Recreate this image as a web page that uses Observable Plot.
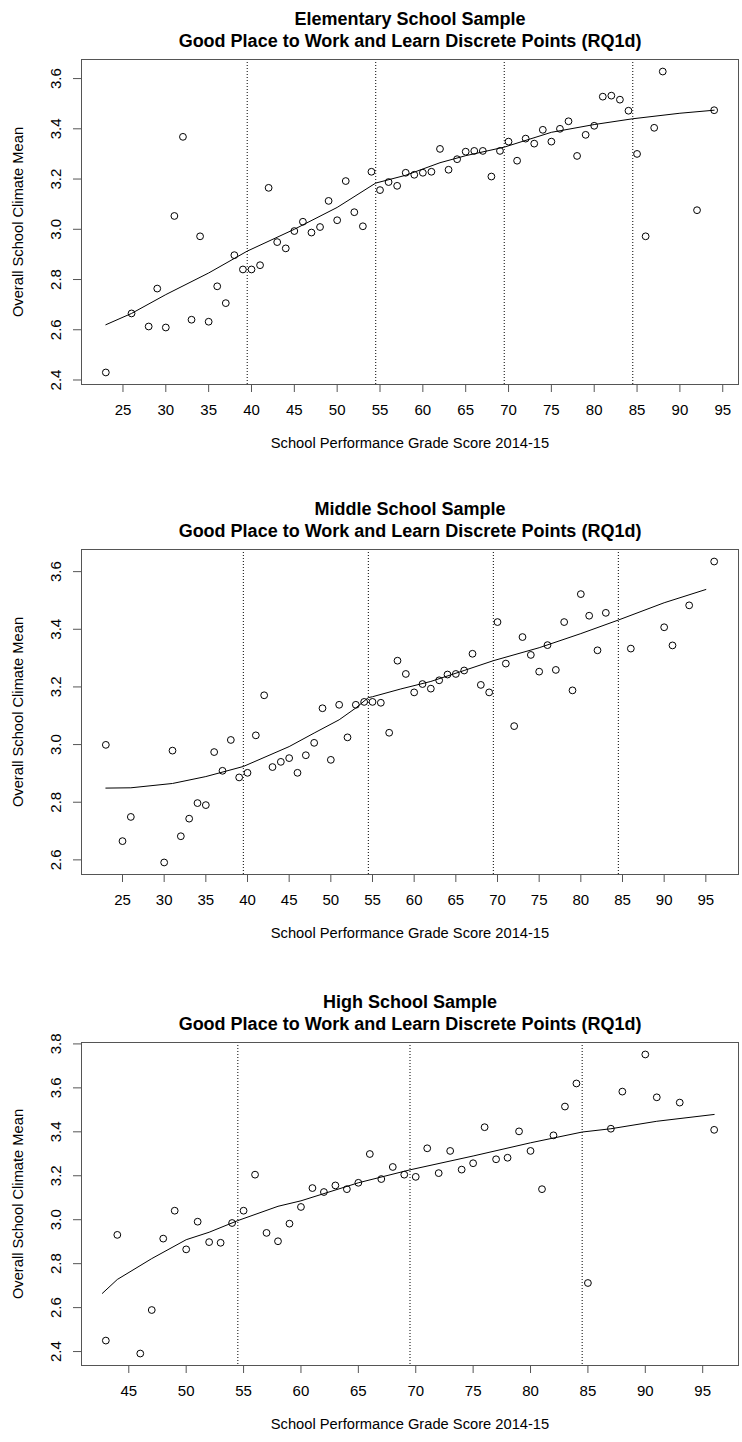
<!DOCTYPE html>
<html><head><meta charset="utf-8">
<script src="https://cdn.jsdelivr.net/npm/d3@7"></script>
<script src="https://cdn.jsdelivr.net/npm/@observablehq/plot@0.6"></script>
<style>body{margin:0;background:#fff;} #chart svg{display:block;}</style>
</head><body><div id="chart"></div>
<script>
// ---- Elementary school sample ----
const elemX = [23,26,28,29,30,31,32,33,34,35,36,37,38,39,40,41,42,43,44,45,46,47,48,49,50,51,52,53,54,55,56,57,58,59,60,61,62,63,64,65,66,67,68,69,70,71,72,73,74,75,76,77,78,79,80,81,82,83,84,85,86,87,88,92,94];
const elemY = [2.43,2.665,2.613,2.764,2.609,3.053,3.368,2.64,2.972,2.632,2.773,2.706,2.897,2.84,2.84,2.857,3.165,2.949,2.924,2.993,3.03,2.987,3.009,3.113,3.036,3.192,3.068,3.012,3.229,3.156,3.188,3.173,3.225,3.217,3.225,3.229,3.32,3.237,3.279,3.309,3.312,3.312,3.21,3.312,3.349,3.273,3.361,3.341,3.396,3.349,3.40,3.43,3.292,3.376,3.412,3.528,3.532,3.516,3.472,3.30,2.972,3.404,3.628,3.076,3.474];
const elemFitX = [23,26,30,35,39.5,45,50,54.5,58,62,65,69.5,75,80,84.5,90,94];
const elemFitY = [2.62,2.665,2.74,2.826,2.913,3.0,3.087,3.184,3.215,3.265,3.293,3.327,3.386,3.417,3.44,3.462,3.474];
const elemCuts = [39.5,54.5,69.5,84.5];

// ---- Middle school sample ----
const midX = [23,25,26,30,31,32,33,34,35,36,37,38,39,40,41,42,43,44,45,46,47,48,49,50,51,52,53,54,55,56,57,58,59,60,61,62,63,64,65,66,67,68,69,70,71,72,73,74,75,76,77,78,79,80,81,82,83,86,90,91,93,96];
const midY = [2.999,2.665,2.749,2.591,2.979,2.682,2.743,2.797,2.79,2.974,2.909,3.016,2.886,2.902,3.032,3.171,2.922,2.94,2.953,2.902,2.963,3.006,3.126,2.947,3.138,3.025,3.138,3.148,3.148,3.145,3.041,3.291,3.245,3.181,3.21,3.194,3.223,3.243,3.245,3.257,3.315,3.207,3.181,3.425,3.281,3.064,3.373,3.311,3.253,3.345,3.259,3.425,3.188,3.522,3.447,3.327,3.457,3.333,3.407,3.344,3.483,3.635];
const midFitX = [23,26,31,35,39.5,45,48,51,53,54.5,55,58.4,62,66,69.5,75,80,84.5,90,95];
const midFitY = [2.849,2.85,2.865,2.889,2.924,2.993,3.04,3.086,3.127,3.163,3.166,3.193,3.219,3.257,3.291,3.336,3.385,3.432,3.492,3.538];
const midCuts = [39.5,54.5,69.5,84.5];

// ---- High school sample ----
const highX = [43,44,46,47,48,49,50,51,52,53,54,55,56,57,58,59,60,61,62,63,64,65,66,67,68,69,70,71,72,73,74,75,76,77,78,79,80,81,82,83,84,85,87,88,90,91,93,96];
const highY = [2.45,2.931,2.391,2.589,2.914,3.041,2.865,2.991,2.898,2.895,2.985,3.041,3.205,2.94,2.902,2.982,3.058,3.144,3.126,3.156,3.139,3.168,3.299,3.185,3.24,3.205,3.195,3.325,3.212,3.313,3.228,3.257,3.421,3.275,3.282,3.402,3.313,3.139,3.384,3.515,3.62,2.712,3.414,3.583,3.752,3.557,3.533,3.409];
const highFitX = [42.7,44,47,50,52,54.5,58,60,65,69.5,75,80,84.5,87,91,96];
const highFitY = [2.665,2.728,2.823,2.909,2.943,2.996,3.061,3.086,3.168,3.227,3.29,3.35,3.399,3.414,3.448,3.479];
const highCuts = [54.5,69.5,84.5];

// ---- ticks & labels ----
const xTicksA = [25,30,35,40,45,50,55,60,65,70,75,80,85,90,95];
const xTicksB = [45,50,55,60,65,70,75,80,85,90,95];
const yTicksElem = [2.4,2.6,2.8,3.0,3.2,3.4,3.6];
const yTicksMid = [2.6,2.8,3.0,3.2,3.4,3.6];
const yTicksHigh = [2.4,2.6,2.8,3.0,3.2,3.4,3.6,3.8];
const titles = ["Elementary School Sample","Middle School Sample","High School Sample"];
const subtitle = "Good Place to Work and Learn Discrete Points (RQ1d)";
const xLabel = "School Performance Grade Score 2014-15";
const yLabel = "Overall School Climate Mean";

function pad(arr){ const lo=d3.min(arr), hi=d3.max(arr), e=(hi-lo)*0.04; return [lo-e, hi+e]; }

function panel({title, xs, ys, fx, fy, cuts, xTicks, yTicks, height, mt, mb}) {
  const pts = xs.map((x,i)=>({x, y: ys[i]}));
  const fit = fx.map((x,i)=>({x, y: fy[i]}));
  return Plot.plot({
    width: 742, height, marginLeft: 81, marginRight: 4, marginTop: mt, marginBottom: mb,
    style: {fontFamily: "'Liberation Sans', Arial, sans-serif", background: "#fff", overflow: "visible"},
    x: {domain: pad(xs)}, y: {domain: pad(ys)},
    marks: [
      Plot.ruleX(cuts, {stroke: "#000", strokeDasharray: "1,2", strokeWidth: 1}),
      Plot.line(fit, {x: "x", y: "y", stroke: "#000", strokeWidth: 1}),
      Plot.dot(pts, {x: "x", y: "y", r: 3.4, stroke: "#000", strokeWidth: 1, fill: "none"}),
      Plot.frame({stroke: "#555"}),
      Plot.axisX({ticks: xTicks, tickSize: 8, tickPadding: 12, fontSize: 15, stroke: "#555", fill: "#000", label: null, tickFormat: d => String(d)}),
      Plot.axisY({ticks: yTicks, tickSize: 8, tickPadding: 13, tickRotate: -90, fontSize: 15, stroke: "#555", fill: "#000", label: null, tickFormat: d3.format(".1f")}),
      Plot.text([title], {frameAnchor: "top", dy: -47, fontSize: 18, fontWeight: "bold", text: d => d, fill: "#000"}),
      Plot.text([subtitle], {frameAnchor: "top", dy: -25, fontSize: 18, fontWeight: "bold", text: d => d, fill: "#000"}),
      Plot.text([xLabel], {frameAnchor: "bottom", dy: 63, fontSize: 14.7, text: d => d, fill: "#000"}),
      Plot.text([yLabel], {frameAnchor: "left", textAnchor: "middle", dx: -63, rotate: -90, fontSize: 14.7, text: d => d, fill: "#000"})
    ]
  });
}

const chart = document.getElementById("chart");
chart.append(panel({title: titles[0], xs: elemX, ys: elemY, fx: elemFitX, fy: elemFitY, cuts: elemCuts, xTicks: xTicksA, yTicks: yTicksElem, height: 491, mt: 59, mb: 107}));
chart.append(panel({title: titles[1], xs: midX, ys: midY, fx: midFitX, fy: midFitY, cuts: midCuts, xTicks: xTicksA, yTicks: yTicksMid, height: 492, mt: 58, mb: 109}));
chart.append(panel({title: titles[2], xs: highX, ys: highY, fx: highFitX, fy: highFitY, cuts: highCuts, xTicks: xTicksB, yTicks: yTicksHigh, height: 459, mt: 59, mb: 77}));
</script>
</body></html>
